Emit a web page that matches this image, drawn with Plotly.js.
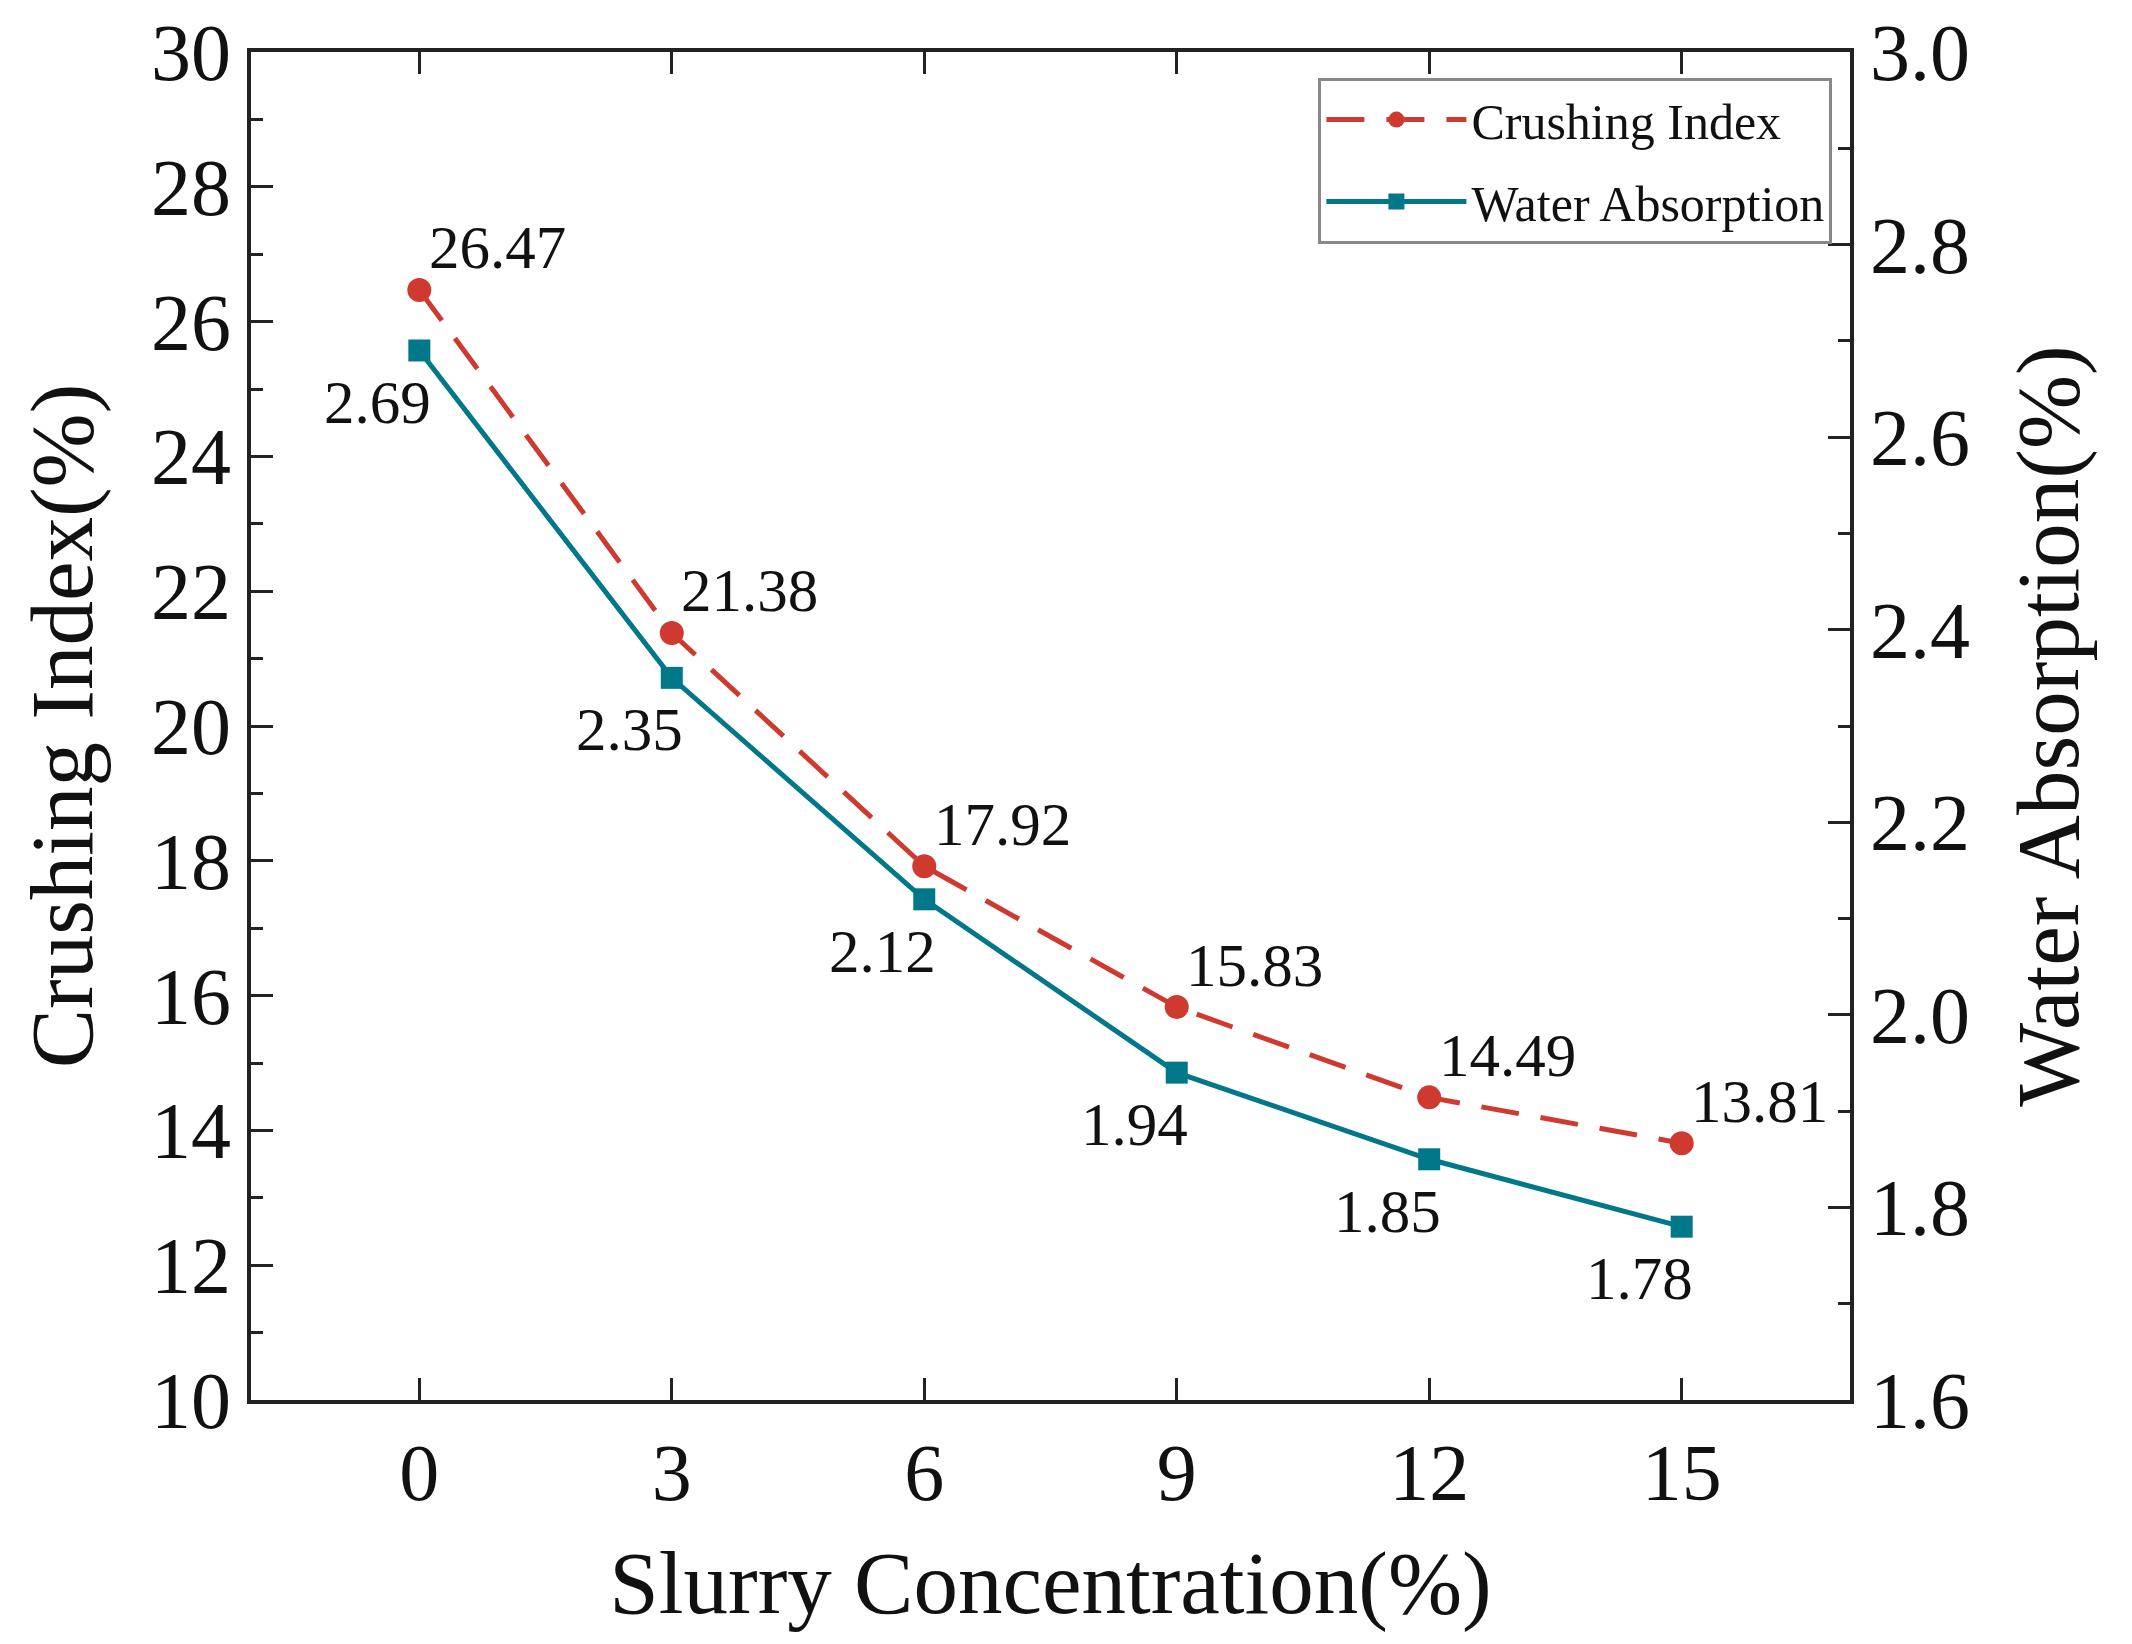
<!DOCTYPE html>
<html>
<head>
<meta charset="utf-8">
<script src="https://cdn.plot.ly/plotly-3.0.1.min.js"></script>
<style>
  html, body { margin: 0; padding: 0; background: #fff; }
  #chart { width: 2132px; height: 1644px; }
</style>
</head>
<body>
<div id="chart"></div>
<script>
// slurry concentration (%)
var concentration = [0, 3, 6, 9, 12, 15];
// crushing index (%), left axis
var crushingIndex = [26.47, 21.38, 17.92, 15.83, 14.49, 13.81];
// water absorption (%), right axis
var waterAbsorption = [2.69, 2.35, 2.12, 1.94, 1.85, 1.78];

var crushLabels = crushingIndex.map(function (v) { return v.toFixed(2); });
var waterLabels = waterAbsorption.map(function (v) { return v.toFixed(2); });

var red = '#cf3a30';
var teal = '#00788a';
var serif = 'Liberation Serif, Times New Roman, serif';

var traceCrush = {
  x: concentration,
  y: crushingIndex,
  name: 'Crushing Index',
  legendgroup: 'a',
  type: 'scatter',
  mode: 'lines+markers',
  line: { color: red, width: 5, dash: '38px,22px' },
  marker: { symbol: 'circle', size: 24, color: red },
  yaxis: 'y'
};

var traceWater = {
  x: concentration,
  y: waterAbsorption,
  name: 'Water Absorption',
  legendgroup: 'b',
  type: 'scatter',
  mode: 'lines+markers',
  line: { color: teal, width: 5 },
  marker: { symbol: 'square', size: 22, color: teal },
  yaxis: 'y2'
};

var annots = [];
concentration.forEach(function (c, i) {
  annots.push({
    x: c, y: crushingIndex[i], xref: 'x', yref: 'y',
    text: crushLabels[i], showarrow: false,
    xshift: 78, yshift: 42,
    font: { family: serif, size: 61, color: '#111' }
  });
  annots.push({
    x: c, y: waterAbsorption[i], xref: 'x', yref: 'y2',
    text: waterLabels[i], showarrow: false,
    xshift: -42, yshift: -52,
    font: { family: serif, size: 61, color: '#111' }
  });
});

var axisCommon = {
  showline: true,
  linecolor: '#222',
  linewidth: 4,
  ticks: 'inside',
  ticklen: 22,
  tickwidth: 3,
  tickcolor: '#222',
  showgrid: false,
  zeroline: false,
  tickfont: { family: serif, size: 80, color: '#111' }
};

var layout = {
  width: 2132,
  height: 1644,
  paper_bgcolor: '#fff',
  plot_bgcolor: '#fff',
  margin: { l: 251, r: 282, t: 52, b: 244 },
  showlegend: true,
  legend: {
    x: 0.989, xanchor: 'right',
    y: 0.981, yanchor: 'top',
    bgcolor: '#fff',
    bordercolor: '#888',
    borderwidth: 3,
    font: { family: serif, size: 50, color: '#111' },
    traceorder: 'grouped',
    tracegroupgap: 14,
    itemwidth: 140
  },
  xaxis: Object.assign({}, axisCommon, {
    range: [-2, 17],
    tick0: 0,
    dtick: 3,
    mirror: 'ticks',
    title: { text: 'Slurry Concentration(%)', font: { family: serif, size: 89, color: '#111' }, standoff: 36 }
  }),
  yaxis: Object.assign({}, axisCommon, {
    range: [10, 30],
    dtick: 2,
    minor: { dtick: 1, ticks: 'inside', ticklen: 12, tickwidth: 3, tickcolor: '#222' },
    title: { text: 'Crushing Index(%)', font: { family: serif, size: 89, color: '#111' }, standoff: 30 }
  }),
  yaxis2: Object.assign({}, axisCommon, {
    overlaying: 'y',
    side: 'right',
    range: [1.6, 3.0],
    dtick: 0.2,
    tickformat: '.1f',
    minor: { dtick: 0.1, ticks: 'inside', ticklen: 12, tickwidth: 3, tickcolor: '#222' },
    title: { text: 'Water Absorption(%)', font: { family: serif, size: 89, color: '#111' }, standoff: 48 }
  }),
  annotations: annots
};

Plotly.newPlot('chart', [traceCrush, traceWater], layout, { displayModeBar: false, staticPlot: true });
</script>
</body>
</html>
